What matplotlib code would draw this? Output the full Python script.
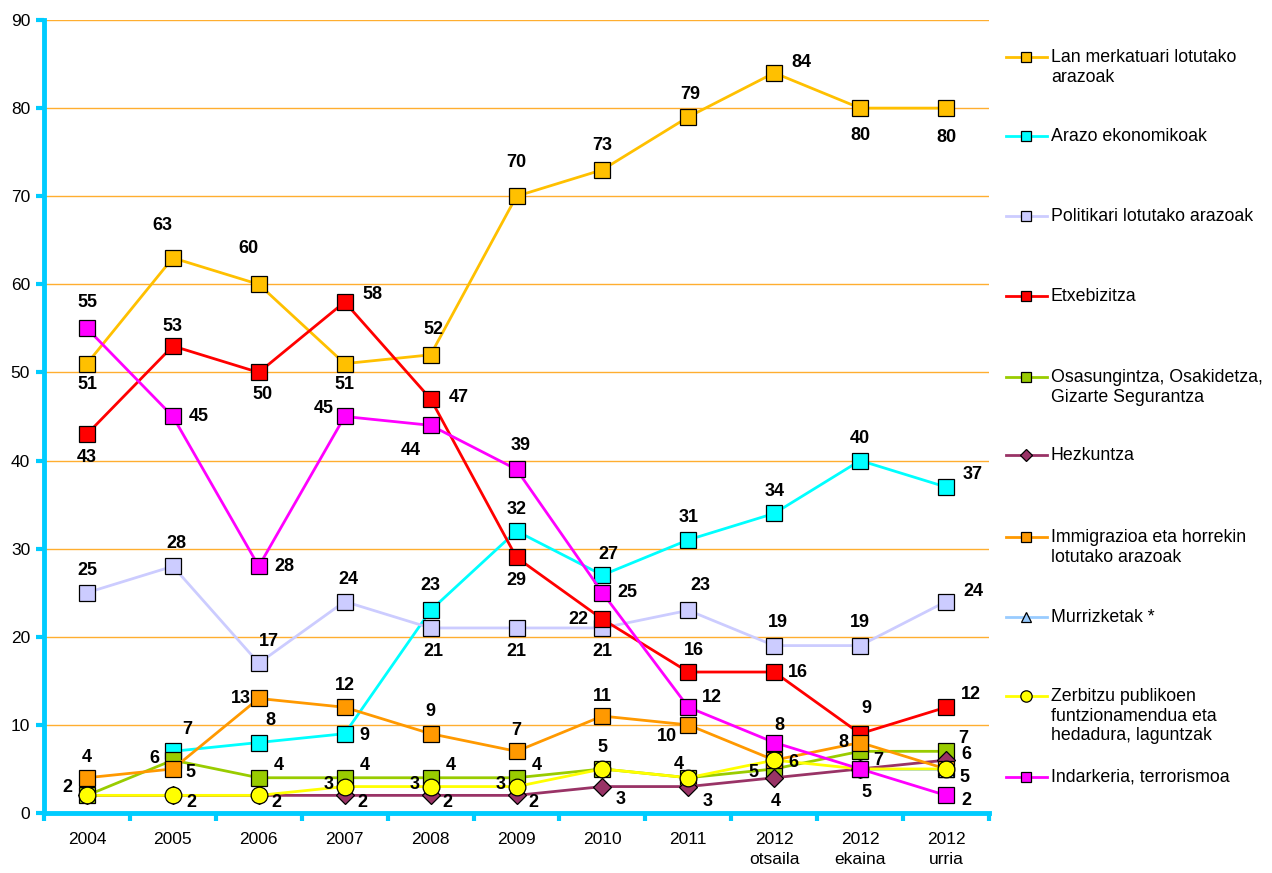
import matplotlib.pyplot as plt
from matplotlib.lines import Line2D
import numpy as np

plt.rcParams['font.family'] = ['Liberation Sans', 'DejaVu Sans']

W, H = 1272, 873
nan = np.nan

# datuak
urteak = ['2004', '2005', '2006', '2007', '2008', '2009', '2010', '2011',
          '2012\notsaila', '2012\nekaina', '2012\nurria']

izenak = ['Lan merkatuari lotutako\narazoak',
          'Arazo ekonomikoak',
          'Politikari lotutako arazoak',
          'Etxebizitza',
          'Osasungintza, Osakidetza,\nGizarte Segurantza',
          'Hezkuntza',
          'Immigrazioa eta horrekin\nlotutako arazoak',
          'Murrizketak *',
          'Zerbitzu publikoen\nfuntzionamendua eta\nhedadura, laguntzak',
          'Indarkeria, terrorismoa']

lan_merkatua = [51, 63, 60, 51, 52, 70, 73, 79, 84, 80, 80]
arazo_ekonomikoak = [nan, 7, 8, 9, 23, 32, 27, 31, 34, 40, 37]
politika = [25, 28, 17, 24, 21, 21, 21, 23, 19, 19, 24]
etxebizitza = [43, 53, 50, 58, 47, 29, 22, 16, 16, 9, 12]
osasungintza = [2, 6, 4, 4, 4, 4, 5, 4, 5, 7, 7]
hezkuntza = [2, 2, 2, 2, 2, 2, 3, 3, 4, 5, 6]
immigrazioa = [4, 5, 13, 12, 9, 7, 11, 10, 6, 8, 5]
murrizketak = [nan, nan, nan, nan, nan, nan, nan, nan, nan, 5, 5]
zerbitzuak = [2, 2, 2, 3, 3, 3, 5, 4, 6, 5, 5]
indarkeria = [55, 45, 28, 45, 44, 39, 25, 12, 8, 5, 2]

serieak = [lan_merkatua, arazo_ekonomikoak, politika, etxebizitza, osasungintza,
           hezkuntza, immigrazioa, murrizketak, zerbitzuak, indarkeria]

# estiloa
koloreak = ['#FFC000', '#00FFFF', '#CCCCFF', '#FF0000', '#99CC00',
            '#993366', '#FF9900', '#99CCFF', '#FFFF00', '#FF00FF']
markak = ['s', 's', 's', 's', 's', 'D', 's', '^', 'o', 's']
mark_tamaina = [11.5, 11.5, 11.5, 11.5, 11.5, 9, 11.5, 11, 12, 11.5]

# etiketen desplazamendua (pixeletan), None = etiketarik ez
N = None
etiketak = [
    [(0, -21), (-10, 32), (-10, 36), (0, -21), (3, 25), (0, 34), (0, 24), (2, 22), (27, 10), (0, -27), (0, -29)],
    [N, (14, 22), (12, 22), (20, -2), (0, 25), (0, 22), (6, 21), (0, 22), (0, 22), (0, 22), (27, 12)],
    [(0, 22), (4, 23), (10, 22), (4, 22), (3, -24), (0, -24), (0, -24), (12, 25), (4, 23), (0, 23), (27, 10)],
    [(0, -23), (0, 20), (4, -22), (28, 7), (28, 1), (0, -23), (-24, 0), (6, 22), (24, 0), (6, 25), (25, 13)],
    [(-20, 8), (-18, 2), (20, 12), (20, 12), (20, 12), (20, 12), (0, 21), (-10, 13), (-21, -4), (18, -9), (17, 13)],
    [N, (19, -7), (18, -7), (18, -7), (17, -7), (17, -7), (18, -13), (19, -15), (2, -24), (6, -24), (20, 6)],
    [(0, 20), (18, -4), (-18, 0), (0, 22), (0, 22), (0, 21), (0, 20), (-21, -12), (19, -2), (-17, 0), (18, -9)],
    [N] * 11,
    [N, N, N, (-16, 2), (-16, 2), (-16, 2), N, N, N, N, N],
    [(0, 26), (26, 0), (26, 0), (-21, 8), (-20, -25), (4, 24), (25, 0), (24, 10), (5, 17), N, (20, -5)],
]

fig = plt.figure(figsize=(W / 100, H / 100), dpi=100)
ax = fig.add_axes([44 / W, 1 - 813 / H, (989 - 44) / W, (813 - 20) / H])

x = np.arange(len(urteak))
for i, s in enumerate(serieak):
    ax.plot(x, s, color=koloreak[i], lw=2, marker=markak[i], ms=mark_tamaina[i],
            mfc=koloreak[i], mec='black', mew=0.9, zorder=3 + i)

for i, s in enumerate(serieak):
    for j, v in enumerate(s):
        off = etiketak[i][j]
        if off is None or np.isnan(v):
            continue
        ax.annotate(str(int(v)), (x[j], v), xytext=off, textcoords='offset pixels',
                    ha='center', va='center', fontsize=13, fontweight='bold', zorder=20)

ax.set_xlim(-0.5, len(urteak) - 0.5)
ax.set_ylim(0, 90)
ax.set_yticks(np.arange(0, 91, 10))
ax.yaxis.grid(True, color='#FFAE30', lw=1)
ax.set_axisbelow(True)

ax.set_xticks(x)
ax.set_xticklabels(urteak, fontsize=12.5, linespacing=1.35)
ax.set_xticks(np.arange(-0.5, len(urteak)), minor=True)
ax.tick_params(axis='x', which='major', length=0, pad=14)
ax.tick_params(axis='x', which='minor', length=6, width=3, color='#00CCFF')
ax.tick_params(axis='y', length=6, width=3, color='#00CCFF', labelsize=12.5, pad=4)

for sp in ['top', 'right']:
    ax.spines[sp].set_visible(False)
for sp in ['left', 'bottom']:
    ax.spines[sp].set_color('#00CCFF')
    ax.spines[sp].set_linewidth(3.5)

# legenda
leg_y = [57, 136, 216, 296, 377, 455, 537, 617, 696, 777]
for i in range(len(serieak)):
    yf = 1 - leg_y[i] / H
    fig.add_artist(Line2D([1006 / W, 1047 / W], [yf, yf], color=koloreak[i], lw=2,
                          transform=fig.transFigure))
    fig.add_artist(Line2D([1026 / W], [yf], marker=markak[i], ms=mark_tamaina[i] * 0.68,
                          mfc=koloreak[i], mec='black', mew=0.9, transform=fig.transFigure))
    fig.text(1051 / W, 1 - (leg_y[i] - 8) / H, izenak[i], ha='left', va='top',
             fontsize=12.8, linespacing=1.2)

fig.savefig('out.png', dpi=100)
